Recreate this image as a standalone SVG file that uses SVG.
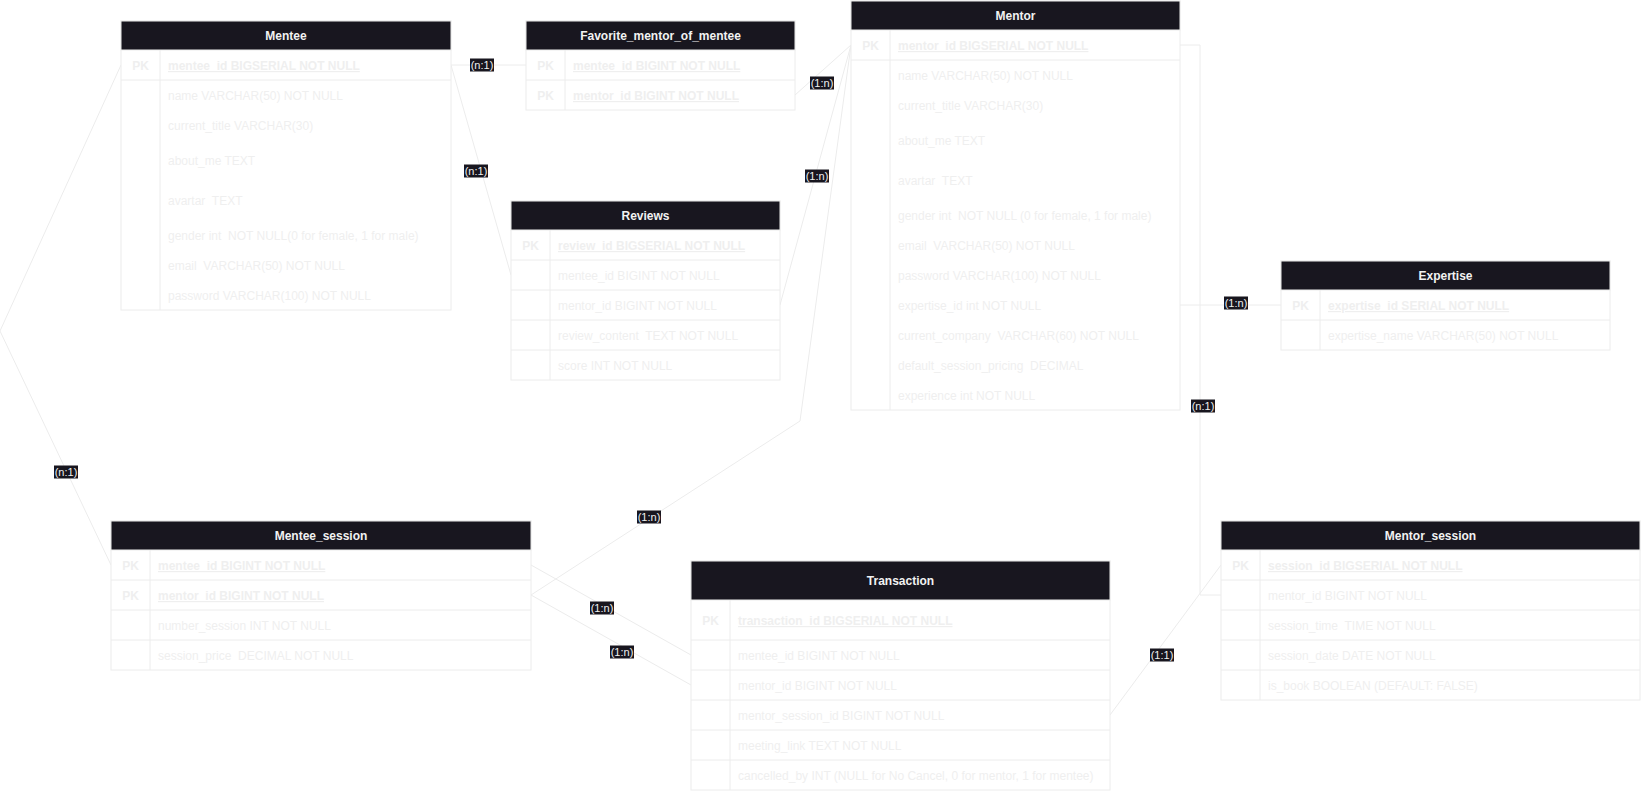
<svg xmlns="http://www.w3.org/2000/svg" width="1641" height="792" viewBox="0 0 1641 792">
  <style>
    .frame { fill: #ffffff; stroke: #ececec; stroke-width: 1; }
    .rule { stroke: #ececec; stroke-width: 1; fill: none; }
    .head { fill: #18161f; stroke: #ececec; stroke-width: 1; }
    .title { font-family: "Liberation Sans", Arial, sans-serif; font-size: 12px; font-weight: bold; fill: #f2f2f2; text-anchor: middle; }
    .pk { font-family: "Liberation Sans", Arial, sans-serif; font-size: 12px; font-weight: bold; fill: #efefef; text-anchor: middle; }
    .key { font-family: "Liberation Sans", Arial, sans-serif; font-size: 12px; font-weight: bold; fill: #efefef; text-decoration: underline; }
    .col { font-family: "Liberation Sans", Arial, sans-serif; font-size: 12px; fill: #efefef; }
    .link { stroke: #ececec; stroke-width: 1; fill: none; }
    .tagbg { fill: #18161f; }
    .tag { font-family: "Liberation Sans", Arial, sans-serif; font-size: 11px; fill: #f0f0f0; text-anchor: middle; }
  </style>

  <rect width="1641" height="792" fill="#ffffff"/>

  <!-- relationship lines -->
  <g id="connectors">
    <path class="link" d="M451,65 H526"/>
    <path class="link" d="M451,65 L511,275"/>
    <path class="link" d="M795,95 L851,45"/>
    <path class="link" d="M780,305 L851,45"/>
    <path class="link" d="M531,595 L800,421 L851,45"/>
    <path class="link" d="M121,65 L0,331 L111,565"/>
    <path class="link" d="M531,565 L691,655"/>
    <path class="link" d="M531,595 L691,685"/>
    <path class="link" d="M1180,305 H1281"/>
    <path class="link" d="M1180,45 H1200 V595 H1221"/>
    <path class="link" d="M1110,715 L1221,565"/>

    <g id="cardinality">
      <rect class="tagbg" x="470" y="58.5" width="24" height="13"/><text class="tag" x="482" y="69">(n:1)</text>
      <rect class="tagbg" x="464" y="164.5" width="24" height="13"/><text class="tag" x="476" y="175">(n:1)</text>
      <rect class="tagbg" x="810" y="76.5" width="24" height="13"/><text class="tag" x="822" y="87">(1:n)</text>
      <rect class="tagbg" x="805" y="169.5" width="24" height="13"/><text class="tag" x="817" y="180">(1:n)</text>
      <rect class="tagbg" x="637" y="510.5" width="24" height="13"/><text class="tag" x="649" y="521">(1:n)</text>
      <rect class="tagbg" x="54" y="465.5" width="24" height="13"/><text class="tag" x="66" y="476">(n:1)</text>
      <rect class="tagbg" x="590" y="601.5" width="24" height="13"/><text class="tag" x="602" y="612">(1:n)</text>
      <rect class="tagbg" x="610" y="645.5" width="24" height="13"/><text class="tag" x="622" y="656">(1:n)</text>
      <rect class="tagbg" x="1224" y="296.5" width="24" height="13"/><text class="tag" x="1236" y="307">(1:n)</text>
      <rect class="tagbg" x="1191" y="399.5" width="24" height="13"/><text class="tag" x="1203" y="410">(n:1)</text>
      <rect class="tagbg" x="1150" y="648.5" width="24" height="13"/><text class="tag" x="1162" y="659">(1:1)</text>
    </g>
  </g>

  <!-- Mentee -->
  <g id="mentee">
    <rect class="frame" x="121" y="21" width="330" height="289"/>
    <rect class="head" x="121" y="21" width="330" height="29"/>
    <text class="title" x="286" y="40">Mentee</text>
    <path class="rule" d="M160,50 V310 M121,80 H451"/>
    <text class="pk" x="140.5" y="70">PK</text>
    <text class="key" x="168" y="70">mentee_id BIGSERIAL NOT NULL</text>
    <text class="col" x="168" y="100">name VARCHAR(50) NOT NULL</text>
    <text class="col" x="168" y="130">current_title VARCHAR(30)</text>
    <text class="col" x="168" y="165">about_me TEXT</text>
    <text class="col" x="168" y="205" xml:space="preserve">avartar  TEXT</text>
    <text class="col" x="168" y="240" xml:space="preserve">gender int  NOT NULL(0 for female, 1 for male)</text>
    <text class="col" x="168" y="270" xml:space="preserve">email  VARCHAR(50) NOT NULL</text>
    <text class="col" x="168" y="300">password VARCHAR(100) NOT NULL</text>
  </g>

  <!-- Favorite_mentor_of_mentee -->
  <g id="favorite-mentor-of-mentee">
    <rect class="frame" x="526" y="21" width="269" height="89"/>
    <rect class="head" x="526" y="21" width="269" height="29"/>
    <text class="title" x="660.5" y="40">Favorite_mentor_of_mentee</text>
    <path class="rule" d="M565,50 V110 M526,80 H795"/>
    <text class="pk" x="545.5" y="70">PK</text>
    <text class="key" x="573" y="70">mentee_id BIGINT NOT NULL</text>
    <text class="pk" x="545.5" y="100">PK</text>
    <text class="key" x="573" y="100">mentor_id BIGINT NOT NULL</text>
  </g>

  <!-- Reviews -->
  <g id="reviews">
    <rect class="frame" x="511" y="201" width="269" height="179"/>
    <rect class="head" x="511" y="201" width="269" height="29"/>
    <text class="title" x="645.5" y="220">Reviews</text>
    <path class="rule" d="M550,230 V380 M511,260 H780 M511,290 H780 M511,320 H780 M511,350 H780"/>
    <text class="pk" x="530.5" y="250">PK</text>
    <text class="key" x="558" y="250">review_id BIGSERIAL NOT NULL</text>
    <text class="col" x="558" y="280">mentee_id BIGINT NOT NULL</text>
    <text class="col" x="558" y="310">mentor_id BIGINT NOT NULL</text>
    <text class="col" x="558" y="340" xml:space="preserve">review_content  TEXT NOT NULL</text>
    <text class="col" x="558" y="370">score INT NOT NULL</text>
  </g>

  <!-- Mentor -->
  <g id="mentor">
    <rect class="frame" x="851" y="1" width="329" height="409"/>
    <rect class="head" x="851" y="1" width="329" height="29"/>
    <text class="title" x="1015.5" y="20">Mentor</text>
    <path class="rule" d="M890,30 V410 M851,60 H1180"/>
    <text class="pk" x="870.5" y="50">PK</text>
    <text class="key" x="898" y="50">mentor_id BIGSERIAL NOT NULL</text>
    <text class="col" x="898" y="80">name VARCHAR(50) NOT NULL</text>
    <text class="col" x="898" y="110">current_title VARCHAR(30)</text>
    <text class="col" x="898" y="145">about_me TEXT</text>
    <text class="col" x="898" y="185" xml:space="preserve">avartar  TEXT</text>
    <text class="col" x="898" y="220" xml:space="preserve">gender int  NOT NULL (0 for female, 1 for male)</text>
    <text class="col" x="898" y="250" xml:space="preserve">email  VARCHAR(50) NOT NULL</text>
    <text class="col" x="898" y="280">password VARCHAR(100) NOT NULL</text>
    <text class="col" x="898" y="310">expertise_id int NOT NULL</text>
    <text class="col" x="898" y="340" xml:space="preserve">current_company  VARCHAR(60) NOT NULL</text>
    <text class="col" x="898" y="370" xml:space="preserve">default_session_pricing  DECIMAL</text>
    <text class="col" x="898" y="400">experience int NOT NULL</text>
  </g>

  <!-- Expertise -->
  <g id="expertise">
    <rect class="frame" x="1281" y="261" width="329" height="89"/>
    <rect class="head" x="1281" y="261" width="329" height="29"/>
    <text class="title" x="1445.5" y="280">Expertise</text>
    <path class="rule" d="M1320,290 V350 M1281,320 H1610"/>
    <text class="pk" x="1300.5" y="310">PK</text>
    <text class="key" x="1328" y="310">expertise_id SERIAL NOT NULL</text>
    <text class="col" x="1328" y="340">expertise_name VARCHAR(50) NOT NULL</text>
  </g>

  <!-- Mentee_session -->
  <g id="mentee-session">
    <rect class="frame" x="111" y="521" width="420" height="149"/>
    <rect class="head" x="111" y="521" width="420" height="29"/>
    <text class="title" x="321" y="540">Mentee_session</text>
    <path class="rule" d="M150,550 V670 M111,580 H531 M111,610 H531 M111,640 H531"/>
    <text class="pk" x="130.5" y="570">PK</text>
    <text class="key" x="158" y="570">mentee_id BIGINT NOT NULL</text>
    <text class="pk" x="130.5" y="600">PK</text>
    <text class="key" x="158" y="600">mentor_id BIGINT NOT NULL</text>
    <text class="col" x="158" y="630">number_session INT NOT NULL</text>
    <text class="col" x="158" y="660" xml:space="preserve">session_price  DECIMAL NOT NULL</text>
  </g>

  <!-- Transaction -->
  <g id="transaction">
    <rect class="frame" x="691" y="561" width="419" height="229"/>
    <rect class="head" x="691" y="561" width="419" height="39"/>
    <text class="title" x="900.5" y="585">Transaction</text>
    <path class="rule" d="M730,600 V790 M691,640 H1110 M691,670 H1110 M691,700 H1110 M691,730 H1110 M691,760 H1110"/>
    <text class="pk" x="710.5" y="625">PK</text>
    <text class="key" x="738" y="625">transaction_id BIGSERIAL NOT NULL</text>
    <text class="col" x="738" y="660">mentee_id BIGINT NOT NULL</text>
    <text class="col" x="738" y="690">mentor_id BIGINT NOT NULL</text>
    <text class="col" x="738" y="720">mentor_session_id BIGINT NOT NULL</text>
    <text class="col" x="738" y="750">meeting_link TEXT NOT NULL</text>
    <text class="col" x="738" y="780">cancelled_by INT (NULL for No Cancel, 0 for mentor, 1 for mentee)</text>
  </g>

  <!-- Mentor_session -->
  <g id="mentor-session">
    <rect class="frame" x="1221" y="521" width="419" height="179"/>
    <rect class="head" x="1221" y="521" width="419" height="29"/>
    <text class="title" x="1430.5" y="540">Mentor_session</text>
    <path class="rule" d="M1260,550 V700 M1221,580 H1640 M1221,610 H1640 M1221,640 H1640 M1221,670 H1640"/>
    <text class="pk" x="1240.5" y="570">PK</text>
    <text class="key" x="1268" y="570">session_id BIGSERIAL NOT NULL</text>
    <text class="col" x="1268" y="600">mentor_id BIGINT NOT NULL</text>
    <text class="col" x="1268" y="630" xml:space="preserve">session_time  TIME NOT NULL</text>
    <text class="col" x="1268" y="660">session_date DATE NOT NULL</text>
    <text class="col" x="1268" y="690">is_book BOOLEAN (DEFAULT: FALSE)</text>
  </g>
</svg>
